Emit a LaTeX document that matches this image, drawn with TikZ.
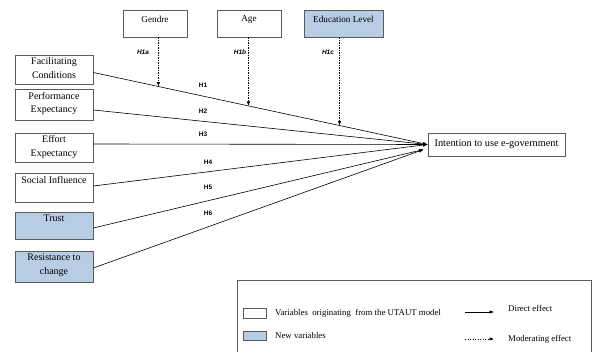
\documentclass[tikz,border=0pt]{standalone}
\usepackage{fontspec}
\setmainfont{Liberation Serif}
\newfontfamily\hfont{Liberation Sans}
\usetikzlibrary{arrows.meta,calc}
\definecolor{newvar}{RGB}{184,204,228}
\definecolor{edge}{RGB}{90,90,90}
\tikzset{
  box/.style={draw=edge,line width=0.7pt,fill=white,inner sep=0pt},
  newbox/.style={box,fill=newvar},
  boxtext/.style={anchor=north,align=center,inner sep=0pt,font=\fontsize{10}{13.5}\selectfont},
  toptext/.style={anchor=north,align=center,inner sep=0pt,font=\fontsize{9.2}{11}\selectfont},
  hlab/.style={font=\hfont\bfseries\fontsize{6.5}{7}\selectfont,inner sep=0pt},
  hmod/.style={font=\hfont\bfseries\itshape\fontsize{6.5}{7}\selectfont,inner sep=0pt},
  direct/.style={line width=0.6pt,-{Latex[length=4.5pt,width=3.5pt]}},
  moder/.style={line width=0.6pt,dash pattern=on 1.4pt off 1.1pt,-{Latex[length=4.5pt,width=3.5pt]}},
  legtext/.style={anchor=west,inner sep=0pt,font=\fontsize{8.8}{10}\selectfont}
}
\begin{document}
\begin{tikzpicture}[x=1pt,y=-1pt]
\useasboundingbox (0,0) rectangle (592,352);
% left boxes
\node[box,minimum width=78pt,minimum height=29pt] (fc) at (54,69.5) {};
\node[boxtext] (fct) at ([yshift=-3pt]fc.north) {Facilitating\\Conditions};
\node[box,minimum width=78pt,minimum height=31pt] (pe) at (54,104.5) {};
\node[boxtext] (pet) at ([yshift=-3.5pt]pe.north) {Performance\\Expectancy};
\node[box,minimum width=78pt,minimum height=29pt] (ee) at (54,147.5) {};
\node[boxtext] (eet) at ([yshift=-3pt]ee.north) {Effort\\Expectancy};
\node[box,minimum width=78pt,minimum height=29pt] (si) at (54,187.5) {};
\node[boxtext] (sit) at ([yshift=-4pt]si.north) {Social Influence};
\node[newbox,minimum width=78pt,minimum height=27pt] (tr) at (54,225.5) {};
\node[boxtext] (trt) at ([yshift=-3.5pt]tr.north) {Trust};
\node[newbox,minimum width=78pt,minimum height=31pt] (rc) at (54,266.5) {};
\node[boxtext] (rct) at ([yshift=-3.5pt]rc.north) {Resistance to\\change};
% top boxes
\node[box,minimum width=64pt,minimum height=27pt] (ge) at (155,23.5) {};
\node[toptext] (get) at ([yshift=-6pt]ge.north) {Gendre};
\node[box,minimum width=64pt,minimum height=27pt] (ag) at (249,23.5) {};
\node[toptext] (agt) at ([yshift=-6pt]ag.north) {Age};
\node[newbox,minimum width=79pt,minimum height=27pt] (ed) at (343.5,23.5) {};
\node[toptext] (edt) at ([yshift=-6pt]ed.north) {Education Level};
% target
\node[box,minimum width=137pt,minimum height=23pt,font=\fontsize{10.3}{12}\selectfont] (iu) at (496.5,144.5) {Intention to use e-government};
% direct effects
\draw[direct] ([yshift=-3pt]fc.east) -- (iu.west);
\draw[direct] ([yshift=-5.5pt]pe.east) -- (iu.west);
\draw[direct] ([yshift=3.5pt]ee.east) -- (iu.west);
\draw[direct] ([yshift=1.5pt]si.east) -- (iu.west);
\draw[direct] ([yshift=-2.5pt]tr.east) -- ([xshift=-4pt,yshift=-5pt]iu.west);
\draw[direct] ([yshift=-1.5pt]rc.east) -- ([xshift=-4pt,yshift=-5pt]iu.west);
% points on H1 line
\path ([yshift=-3pt]fc.east) -- (iu.west)
  coordinate[pos=0.1946] (m1)
  coordinate[pos=0.464] (m2)
  coordinate[pos=0.7365] (m3);
\draw[moder] (m1 |- ge.south) -- (m1);
\draw[moder] (m2 |- ag.south) -- (m2);
\draw[moder] (m3 |- ed.south) -- (m3);
% labels
\node[hmod] (h1a) at (143,52) {H1a};
\node[hmod] (h1b) at (240,52) {H1b};
\node[hmod] (h1c) at (328,52) {H1c};
\node[hlab] (h1) at (203,85) {H1};
\node[hlab] (h2) at (203,111) {H2};
\node[hlab] (h3) at (203,134.5) {H3};
\node[hlab] (h4) at (208,162) {H4};
\node[hlab] (h5) at (208,187) {H5};
\node[hlab] (h6) at (208,213) {H6};
% legend
\node[draw=edge,line width=0.7pt,minimum width=354pt,minimum height=80pt,anchor=north west,inner sep=0pt] (leg) at (237,280) {};
\node[box,minimum width=23pt,minimum height=10pt] (sw1) at (254.5,313) {};
\node[newbox,minimum width=23pt,minimum height=9pt] (sw2) at (254.5,335.5) {};
\node[legtext] (l1) at (275,313) {Variables\ \ originating\ \ from\ the\ UTAUT\ model};
\node[legtext] (l2) at (275,335.5) {New variables};
\coordinate (a1s) at (465,312);
\coordinate (a1e) at (494,312);
\coordinate (a2s) at (465,339);
\coordinate (a2e) at (494,339);
\draw[direct] (a1s) -- (a1e);
\draw[moder] (a2s) -- (a2e);
\node[legtext] (l3) at (508,308.5) {Direct effect};
\node[legtext] (l4) at (508,339) {Moderating effect};
\end{tikzpicture}
\end{document}
